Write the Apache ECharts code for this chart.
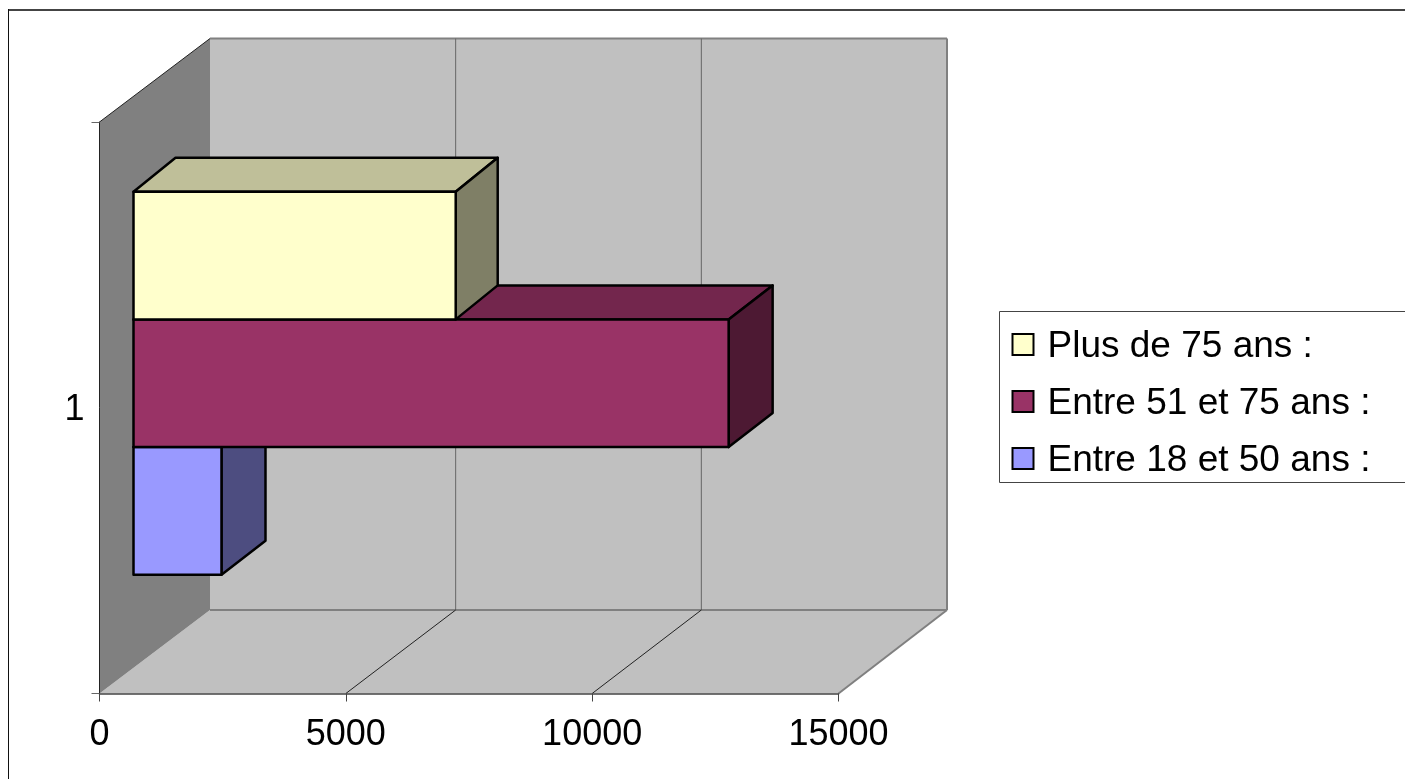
<!DOCTYPE html>
<html>
<head>
<meta charset="utf-8">
<script src="https://cdn.jsdelivr.net/npm/echarts@6/dist/echarts.min.js"></script>
<style>html,body{margin:0;padding:0;background:#fff;overflow:hidden}#c{width:1405px;height:779px}</style>
</head>
<body>
<div id="c"></div>
<script>
const categories = ['1'];
const xTicks = [0, 5000, 10000, 15000];
const plus75 = [6540];
const entre51et75 = [12080];
const entre18et50 = [1786];
const names = ['Plus de 75 ans :', 'Entre 51 et 75 ans :', 'Entre 18 et 50 ans :'];

const FONT = '"Liberation Sans", Arial, sans-serif';
const wallDX = 110.5, wallDY = -83.5, backScale = 737 / 739;
const barDX = 34, barDY = -24.5;
const barH = 127.7;

const faces = [
  {front: '#FFFFCC', top: '#BFBF99', side: '#7F7F66', slot: -1.5, dx: 42, dy: -34},
  {front: '#993366', top: '#73264D', side: '#4D1933', slot: -0.5, dx: 44, dy: -34},
  {front: '#9999FF', top: '#7373BF', side: '#4D4D80', slot: 0.5, dx: 44, dy: -34}
];

function barRenderer(f) {
  return function (params, api) {
    const v = api.value(0);
    const o = api.coord([0, 0]);
    const e = api.coord([v, 0]);
    const x0 = o[0] + barDX, x1 = e[0] + barDX;
    const y0 = o[1] + barDY + f.slot * barH, y1 = y0 + barH;
    const line = {stroke: '#000', lineWidth: 2.5, lineJoin: 'round'};
    const poly = (pts, fill) => ({type: 'polygon', shape: {points: pts}, style: Object.assign({fill}, line)});
    return {type: 'group', children: [
      poly([[x0, y0], [x0 + f.dx, y0 + f.dy], [x1 + f.dx, y0 + f.dy], [x1, y0]], f.top),
      poly([[x1, y0], [x1 + f.dx, y0 + f.dy], [x1 + f.dx, y1 + f.dy], [x1, y1]], f.side),
      poly([[x0, y0], [x1, y0], [x1, y1], [x0, y1]], f.front)
    ]};
  };
}

function wallRenderer(params, api) {
  const ticks = xTicks.map(t => api.coord([t, 0])[0]);
  const bw = api.size([0, 1])[1];
  const cy = api.coord([0, 0])[1];
  const T = cy - bw / 2, B = cy + bw / 2;
  const L = ticks[0], R = ticks[ticks.length - 1];
  const back = x => L + wallDX + (x - L) * backScale;
  const bT = T + wallDY, bB = B + wallDY;
  const BL = back(L), BR = back(R);
  const seg = (a, b, c, w) => ({type: 'line', shape: {x1: a[0], y1: a[1], x2: b[0], y2: b[1]}, style: {stroke: c, lineWidth: w}});
  const fill = (pts, c) => ({type: 'polygon', shape: {points: pts}, style: {fill: c}});
  const kids = [
    fill([[BL, bT], [BR, bT], [BR, bB], [BL, bB]], '#C0C0C0'),
    fill([[L, B], [BL, bB], [BR, bB], [R, B]], '#C0C0C0'),
    fill([[L, T], [BL, bT], [BL, bB], [L, B]], '#808080'),
    seg([BL, bT], [BR, bT], '#808080', 2),
    seg([BL, bB], [BR, bB], '#808080', 2),
    seg([BR, bT], [BR, bB], '#808080', 2),
    seg([R, B], [BR, bB], '#808080', 2),
    seg([L, T], [BL, bT], '#222', 1)
  ];
  ticks.slice(1, -1).forEach(x => {
    kids.push(seg([back(x), bT], [back(x), bB], '#666', 1));
    kids.push(seg([x, B], [back(x), bB], '#222', 1));
  });
  return {type: 'group', children: kids};
}

const chart = echarts.init(document.getElementById('c'), null, {renderer: 'canvas'});
const axisLabel = {color: '#000', fontFamily: FONT, fontSize: 36};

function barSeries(name, values, f) {
  return {
    name, type: 'custom', z: 5, coordinateSystem: 'cartesian2d',
    data: values.map((v, i) => [v, i]),
    encode: {x: 0, y: 1},
    itemStyle: {color: f.front, borderColor: '#000', borderWidth: 2},
    renderItem: barRenderer(f)
  };
}

chart.setOption({
  animation: false,
  backgroundColor: '#fff',
  graphic: [
    {type: 'line', z: -1, silent: true, shape: {x1: 8, y1: 10, x2: 1405, y2: 10}, style: {stroke: '#444', lineWidth: 2}},
    {type: 'line', z: -1, silent: true, shape: {x1: 8.5, y1: 9, x2: 8.5, y2: 779}, style: {stroke: '#111', lineWidth: 1}}
  ],
  grid: {left: 99.5, top: 122, width: 739, height: 571.5},
  xAxis: {type: 'value', min: 0, max: 15000, interval: 5000, z: 3,
    splitLine: {show: false},
    axisLine: {show: true, lineStyle: {color: '#444', width: 1.5}},
    axisTick: {show: true, length: 8, lineStyle: {color: '#444'}},
    axisLabel: Object.assign({margin: 24, showMinLabel: true, showMaxLabel: true, hideOverlap: false,
      formatter: v => String(v)}, axisLabel)},
  yAxis: {type: 'category', data: categories, z: 3,
    splitLine: {show: false},
    axisLine: {show: true, lineStyle: {color: '#222', width: 1}},
    axisTick: {show: true, length: 8, lineStyle: {color: '#666'}},
    axisLabel: Object.assign({margin: 15, formatter: v => '{t|' + v + '}',
      rich: {t: {color: '#000', fontFamily: FONT, fontSize: 36, padding: [4, 0, 0, 0]}}}, axisLabel)},
  legend: {
    orient: 'vertical', left: 999.5, top: 311.5, align: 'left',
    padding: [16.5, 60, 3.5, 12], itemGap: 20, itemWidth: 21, itemHeight: 21,
    borderColor: '#444', borderWidth: 1, backgroundColor: '#fff',
    formatter: n => '{t|' + n + '}',
    textStyle: {color: '#000', fontFamily: FONT, fontSize: 37,
      rich: {t: {color: '#000', fontFamily: FONT, fontSize: 37, padding: [4, 0, 0, 9]}}},
    selectedMode: false,
    data: names.map((n, i) => ({name: n, icon: 'rect',
      itemStyle: {color: faces[i].front, borderColor: '#000', borderWidth: 2}}))
  },
  series: [
    {type: 'custom', silent: true, z: 1, coordinateSystem: 'cartesian2d',
      data: categories.map((c, i) => [0, i]), encode: {x: 0, y: 1}, renderItem: wallRenderer},
    barSeries(names[2], entre18et50, faces[2]),
    barSeries(names[1], entre51et75, faces[1]),
    barSeries(names[0], plus75, faces[0])
  ]
});
</script>
</body>
</html>
